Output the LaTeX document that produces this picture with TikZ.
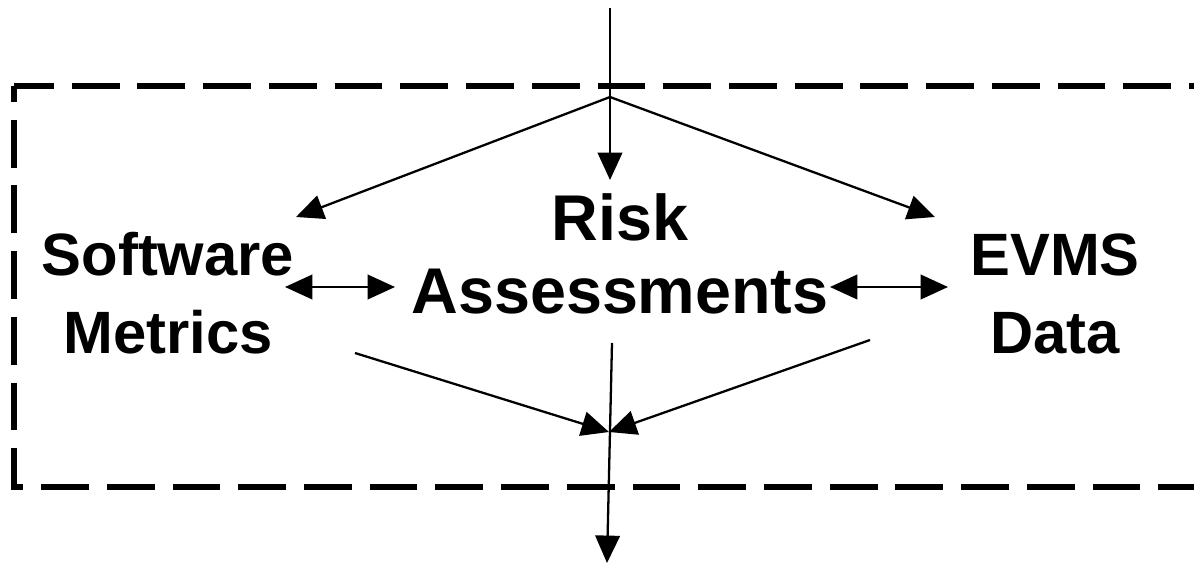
\documentclass[tikz,border=0pt]{standalone}
\usepackage{fontspec}
\setmainfont{Liberation Sans}
\usetikzlibrary{arrows.meta}

\begin{document}
\begin{tikzpicture}[line width=.65pt, >={Triangle[length=7.8pt,width=7pt]},
  every node/.style={font=\fontsize{17}{22}\selectfont\bfseries,align=center,inner sep=0pt,anchor=base},
  big/.style={font=\fontsize{18.4}{20.7}\selectfont\bfseries},
  box/.style={line width=1.7pt,dash pattern=on 13.6pt off 5.1pt,dash phase=9.1pt}]
  \useasboundingbox (0,0) rectangle (11.94,5.65);
  \node (sw) at (1.68,2.12) {Software\\Metrics};
  \node [big] (ra) at (6.20,2.52) {Risk\\Assessments};
  \node (ev) at (10.55,2.12) {EVMS\\Data};
  \coordinate (in) at (6.10,5.57);
  \coordinate (br) at (6.10,4.68);
  \coordinate (rtop) at (6.10,3.85);
  \coordinate (swtop) at (2.96,3.48);
  \coordinate (evtop) at (9.35,3.48);
  \coordinate (swr) at (2.85,2.78);
  \coordinate (ral) at (3.95,2.78);
  \coordinate (rar) at (8.30,2.78);
  \coordinate (evl) at (9.48,2.78);
  \coordinate (swout) at (3.55,2.12);
  \coordinate (evout) at (8.70,2.25);
  \coordinate (raout) at (6.12,2.22);
  \coordinate (join) at (6.09,1.33);
  \coordinate (out) at (6.07,0.02);
  \draw [box] (0.14,4.79) rectangle (12.6,0.78);
  \draw (in) -- (br);
  \draw [->] (br) -- (rtop);
  \draw [->] (br) -- (swtop);
  \draw [->] (br) -- (evtop);
  \draw [<->] (swr) -- (ral);
  \draw [<->] (rar) -- (evl);
  \draw [->] (swout) -- (join);
  \draw [->] (evout) -- (join);
  \draw [->] (raout) -- (out);
\end{tikzpicture}
\end{document}
